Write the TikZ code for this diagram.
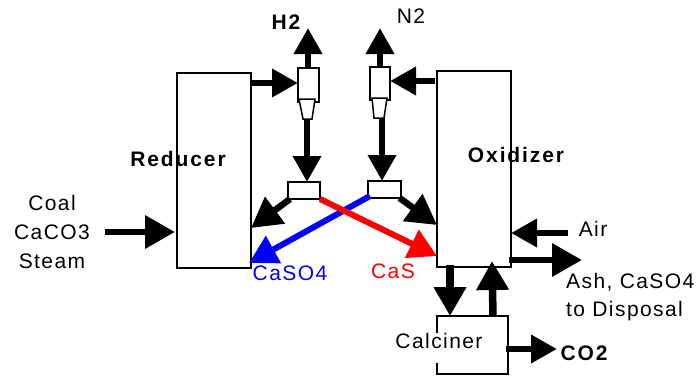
\documentclass[tikz,border=0pt]{standalone}
\usepackage{fontspec}
\setmainfont[LetterSpace=6.8,BoldFeatures={LetterSpace=9}]{Liberation Sans}
\usetikzlibrary{arrows.meta}
\definecolor{arrblue}{RGB}{0,0,255}
\definecolor{arrred}{RGB}{255,0,0}
\tikzset{
  box/.style={draw=black,line width=1.5pt,fill=white,inner sep=0pt,outer sep=0pt},
  flow/.style={line width=6.5pt,-{Triangle[length=26pt,width=27pt]}},
  flowwide/.style={line width=6.5pt,-{Triangle[length=30pt,width=32pt]}},
  flowbig/.style={line width=7.5pt,-{Triangle[length=29pt,width=31pt]}},
  slim/.style={line width=6pt,-{Triangle[length=28pt,width=30pt]}},
  lab/.style={inner sep=0pt,font=\fontsize{21}{25}\selectfont},
  blab/.style={lab,font=\fontsize{21}{25}\selectfont\bfseries},
}
\begin{document}
\begin{tikzpicture}[x=1pt,y=-1pt]
\useasboundingbox (0,0) rectangle (700,375);
\fill[white] (0,0) rectangle (700,375);
% vessels
\node[box,minimum width=74pt,minimum height=195pt,anchor=north west] (reducer) at (177,73) {};
\node[box,minimum width=74pt,minimum height=196pt,anchor=north west] (oxidizer) at (437,71) {};
\node[box,minimum width=71pt,minimum height=58pt,anchor=north west] (calciner) at (437,316) {};
% valves
\node[box,minimum width=21pt,minimum height=34pt,anchor=north west] (hvalve) at (298,68) {};
\node[box,minimum width=20pt,minimum height=33pt,anchor=north west] (nvalve) at (370,67) {};
\draw[box] (299,99) -- (315,99) -- (312,119) -- (303,119) -- cycle;
\draw[box] (372,98) -- (387,98) -- (384,118) -- (374,118) -- cycle;
\coordinate (hcone) at (307,119);
\coordinate (ncone) at (382,118);
% splitters
\node[box,minimum width=32pt,minimum height=17pt,anchor=north west] (lsplit) at (288,182) {};
\node[box,minimum width=33pt,minimum height=17pt,anchor=north west] (rsplit) at (368,181) {};
% free ends
\coordinate (hout) at (308,28);
\coordinate (nout) at (380,28);
\coordinate (feed) at (105,232);
\coordinate (airin) at (568,233);
\coordinate (ashout) at (582,260);
\coordinate (coout) at (557,349);
\coordinate (bluetip) at (249,263);
% connectors
\draw[flow] ([yshift=87.5pt]reducer.east) -- ([yshift=2pt]hvalve.west);
\draw[flow] (hvalve.north -| hout) -- (hout);
\draw[flow] (nvalve.north -| nout) -- (nout);
\draw[flow] ([xshift=-2pt,yshift=88pt]oxidizer.west) -- ([yshift=2.5pt]nvalve.east);
\draw[flow] (hcone) -- (hcone |- lsplit.north);
\draw[flow] (ncone) -- (ncone |- rsplit.north);
\draw[flowwide] ([xshift=-14pt]lsplit.south) -- ([yshift=-57.5pt]reducer.east);
\draw[flowwide] ([xshift=15pt]rsplit.south) -- ([yshift=-56pt]oxidizer.west);
\draw[arrblue,slim] ([xshift=2pt,yshift=-6.5pt]rsplit.west) -- (bluetip);
\draw[arrred,slim] (lsplit.south east) -- ([yshift=-87pt]oxidizer.west);
\draw[flowwide] (feed) -- ([yshift=-61.5pt,xshift=-2pt]reducer.west);
\draw[flow] (airin) -- ([yshift=-64pt]oxidizer.east);
\draw[flowwide] ([yshift=-91pt,xshift=-2pt]oxidizer.east) -- (ashout);
\draw[flowbig] ([xshift=13pt,yshift=2pt]oxidizer.south west) -- ([xshift=13pt]calciner.north west);
\draw[flowbig] ([xshift=56pt]calciner.north west) -- ([xshift=55pt,yshift=6pt]oxidizer.south west);
\draw[flow] ([yshift=-4pt,xshift=-2pt]calciner.east) -- (coout);
% labels
\node[blab] (lh) at (286,22) {H2};
\node[lab] (ln) at (411,16) {N2};
\node[blab] (lr) at (178,159) {Reducer};
\node[blab] (lo) at (516,155) {Oxidizer};
\node[lab,align=center,font=\fontsize{21}{28.6}\selectfont] (lf) at (52,232) {Coal\\CaCO3\\Steam};
\node[lab] (la) at (593,229) {Air};
\node[lab,align=left,anchor=west,font=\fontsize{21}{28}\selectfont] (ld) at (566,297) {Ash, CaSO4\\to Disposal};
\node[lab,fill=white,inner xsep=1pt,inner ysep=0pt,text height=15.5pt,text depth=14.5pt,anchor=base] (lc) at (439,348.5) {Calciner};
\node[blab] (lco) at (584,353) {CO2};
\node[lab,text=arrblue] (lb) at (290,273) {CaSO4};
\node[lab,text=arrred] (lrr) at (393,271) {CaS};
\end{tikzpicture}
\end{document}
